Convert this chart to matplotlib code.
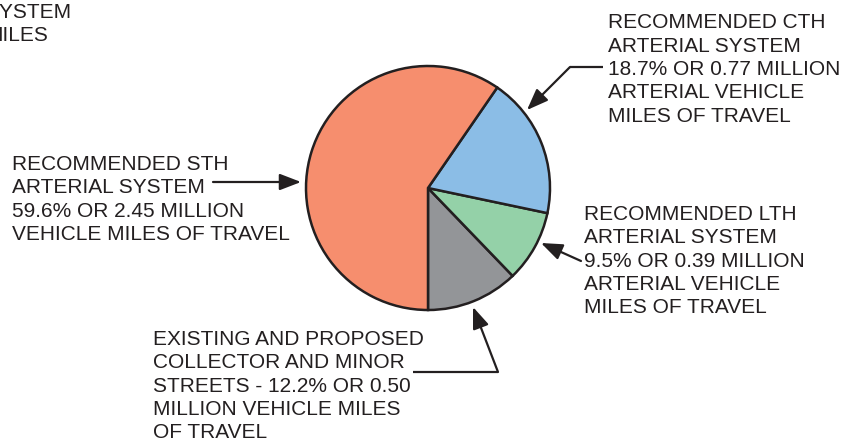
import matplotlib
matplotlib.use("Agg")
import matplotlib.pyplot as plt

# slice shares in percent, drawn counterclockwise from the bottom
slices = ["Collector and minor", "LTH arterial", "CTH arterial", "STH arterial"]
shares = [12.2, 9.5, 18.7, 59.6]
colors = ["#939598", "#94d1a8", "#8bbde6", "#f68e6e"]

label_sth = ["RECOMMENDED STH", "ARTERIAL SYSTEM", "59.6% OR 2.45 MILLION",
             "VEHICLE MILES OF TRAVEL"]
label_cth = ["RECOMMENDED CTH", "ARTERIAL SYSTEM", "18.7% OR 0.77 MILLION",
             "ARTERIAL VEHICLE", "MILES OF TRAVEL"]
label_lth = ["RECOMMENDED LTH", "ARTERIAL SYSTEM", "9.5% OR 0.39 MILLION",
             "ARTERIAL VEHICLE", "MILES OF TRAVEL"]
label_col = ["EXISTING AND PROPOSED", "COLLECTOR AND MINOR",
             "STREETS - 12.2% OR 0.50", "MILLION VEHICLE MILES", "OF TRAVEL"]
label_cut = ["SYSTEM", "MILES"]

W, H = 863, 445
ink = "#231f20"

fig = plt.figure(figsize=(W / 100, H / 100), dpi=100)
ax = fig.add_axes([0, 0, 1, 1])

def Y(y):
    return H - y

ax.pie(shares, colors=colors, startangle=-90, counterclock=True,
       center=(428, Y(188)), radius=122, frame=True,
       wedgeprops=dict(edgecolor=ink, linewidth=1.8))

def block(lines, x, y0, step=23.3):
    # y0 is the baseline of the first line, in image pixels
    for i, s in enumerate(lines):
        ax.text(x, Y(y0 + i * step), s, ha="left", va="baseline",
                fontsize=15, family="Liberation Sans", color=ink)

block(label_sth, 12, 170)
block(label_cth, 608, 28.5)
block(label_lth, 584, 220)
block(label_col, 153, 345)
# label of a neighbouring chart, cut off at the left edge as in the source
block(label_cut, -15, 18)

arrow = dict(arrowstyle="-|>,head_length=0.65,head_width=0.25",
             mutation_scale=20, color=ink, lw=1.6, shrinkA=0, shrinkB=0)

def pointer(points):
    xs = [p[0] for p in points]
    ys = [Y(p[1]) for p in points]
    if len(points) > 2:
        ax.plot(xs[:-1], ys[:-1], color=ink, lw=1.6, solid_capstyle="butt")
    ax.annotate("", xy=(xs[-1], ys[-1]), xytext=(xs[-2], ys[-2]),
                arrowprops=arrow)

pointer([(213, 182), (301, 182)])
pointer([(603, 67), (570, 67), (527, 110)])
pointer([(581, 261), (541, 243)])
pointer([(413, 372), (498, 372), (473, 307)])

ax.set_xlim(0, W)
ax.set_ylim(0, H)
ax.set_aspect("auto")
ax.axis("off")

fig.savefig("out.png", dpi=100)
